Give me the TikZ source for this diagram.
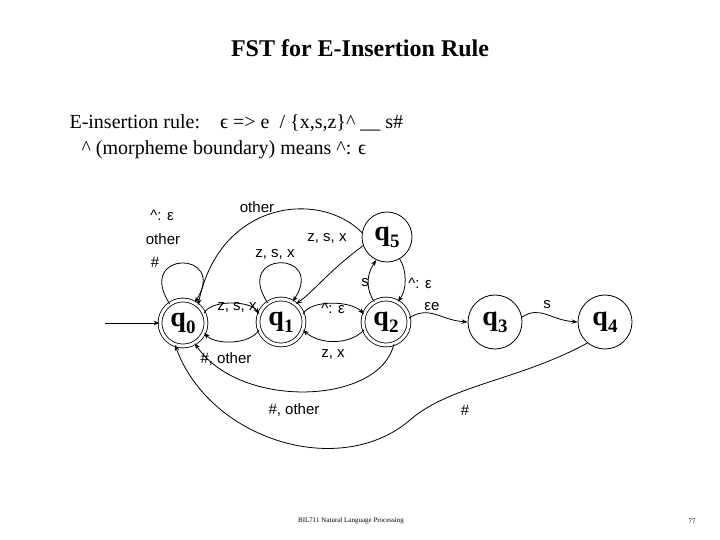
\documentclass[tikz,border=0pt]{standalone}
\usepackage{fontspec}
\setmainfont{Liberation Serif}
\newfontfamily\lsans{Liberation Sans}
\usetikzlibrary{arrows.meta}
\newcommand{\qs}[1]{q\raisebox{-7pt}{\fontsize{19}{19}\selectfont #1}}
\begin{document}
\begin{tikzpicture}[x=1pt,y=-1pt,
  st/.style={circle,draw,thick,minimum size=50pt,inner sep=0pt,font=\fontsize{28}{28}\selectfont\bfseries},
  acc/.style={st,double,double distance=3pt,minimum size=46pt},
  ed/.style={thick,-{Stealth[length=6pt]}},
  lb/.style={font=\lsans\fontsize{15}{15}\selectfont,inner sep=1pt}]
\useasboundingbox (0,0) rectangle (720,540);
\node[font=\fontsize{24}{24}\selectfont\bfseries] (title) at (360,48) {FST for E-Insertion Rule};
\node[anchor=west,font=\fontsize{20}{20}\selectfont] (r1) at (66,123) {E-insertion rule:\quad ϵ => e \ /\ \{x,s,z\}\^{} \_\_ s\#};
\node[anchor=west,font=\fontsize{20}{20}\selectfont] (r2) at (78,150) {\^{} (morpheme boundary) means \^{}: ϵ};
\node[acc] (q0) at (183,323) {\qs{0}};
\node[acc] (q1) at (281,322) {\qs{1}};
\node[acc] (q2) at (386,322) {\qs{2}};
\node[st] (q5) at (387,237) {\qs{5}};
\node[st,minimum size=54pt] (q3) at (495,322) {\qs{3}};
\node[st,minimum size=54pt] (q4) at (605,322) {\qs{4}};
\coordinate (s) at (105,323);
\draw[ed] (s) -- (q0);
\draw[ed] (q0.125) .. controls (135,250) and (228,250) .. (q0.60);
\node[lb] (l1) at (162,215) {\^{}: ε};
\node[lb] (l2) at (163,239) {other};
\node[lb] (l3) at (155,262) {\#};
\draw[ed] (q1.125) .. controls (233,250) and (326,250) .. (q1.60);
\node[lb] (l4) at (275,254) {z, s, x};
\draw[ed] (q0.25) .. controls (210,300) and (250,300) .. (q1.160);
\node[lb] (l5) at (237,307) {z, s, x};
\draw[ed] (q1.200) .. controls (250,345) and (215,345) .. (q0.335);
\node[lb] (l6) at (226,359) {\#, other};
\draw[ed] (q1.20) .. controls (310,300) and (350,300) .. (q2.160);
\node[lb] (l7) at (333,308) {\^{}: ε};
\draw[ed] (q2.200) .. controls (350,345) and (320,345) .. (q1.340);
\node[lb] (l8) at (333,354) {z, x};
\draw[ed] (q5.200) .. controls (330,270) and (315,290) .. (q1.50);
\node[lb] (l9) at (327,238) {z, s, x};
\draw[ed] (q5.170) .. controls (320,190) and (220,200) .. (q0.50);
\node[lb] (l10) at (257,207) {other};
\draw[ed] (q2.120) .. controls (366,290) and (366,275) .. (q5.245);
\node[lb] (l11) at (365,283) {s};
\draw[ed] (q5.300) .. controls (407,270) and (407,290) .. (q2.60);
\node[lb] (l12) at (420,283) {\^{}: ε};
\draw[ed] (q2.290) .. controls (380,405) and (240,410) .. (q0.300);
\node[lb] (l13) at (294,410) {\#, other};
\draw[ed] (q2.10) .. controls (430,305) and (440,320) .. (q3.180);
\node[lb] (l14) at (432,307) {εe};
\draw[ed] (q3.10) .. controls (540,305) and (550,320) .. (q4.180);
\node[lb] (l15) at (547,305) {s};
\draw[ed] (q4.230) .. controls (520,380) and (450,385) .. (410,420) .. controls (340,480) and (210,440) .. (q0.250);
\node[lb] (l16) at (465,410) {\#};
\node[font=\fontsize{7}{7}\selectfont] (f1) at (351,521) {BIL711 Natural Language Processing};
\node[font=\fontsize{7}{7}\selectfont] (f2) at (692,521) {77};
\end{tikzpicture}
\end{document}
